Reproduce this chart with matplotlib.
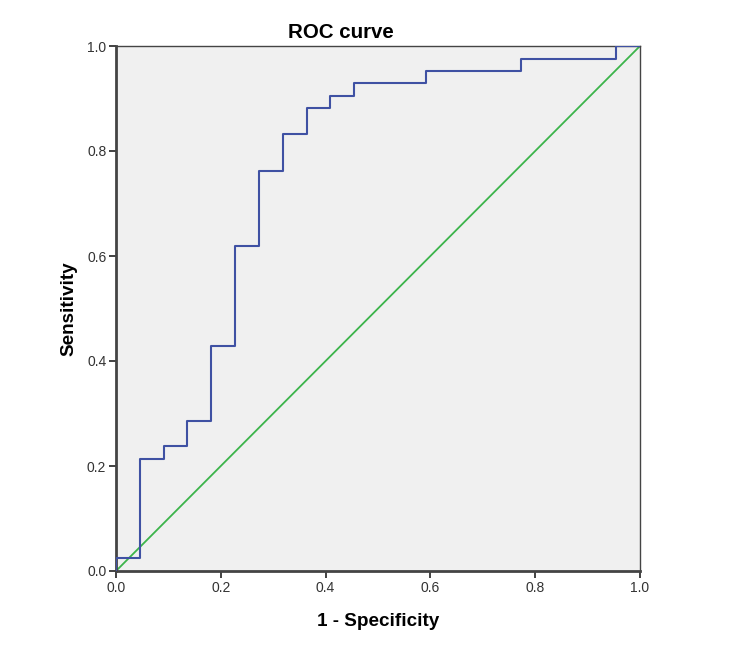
import matplotlib
matplotlib.use("Agg")
import matplotlib.pyplot as plt

plt.rcParams['font.family'] = ['Liberation Sans', 'DejaVu Sans']

# ROC step points (1 - specificity, sensitivity)
fpr = [0.0, 0.0, 0.045, 0.045, 0.091, 0.091, 0.136, 0.136, 0.182, 0.182,
       0.227, 0.227, 0.273, 0.273, 0.318, 0.318, 0.364, 0.364, 0.409, 0.409,
       0.455, 0.455, 0.591, 0.591, 0.773, 0.773, 0.955, 0.955, 1.0]
tpr = [0.0, 0.024, 0.024, 0.214, 0.214, 0.238, 0.238, 0.286, 0.286, 0.429,
       0.429, 0.619, 0.619, 0.762, 0.762, 0.833, 0.833, 0.881, 0.881, 0.905,
       0.905, 0.929, 0.929, 0.952, 0.952, 0.976, 0.976, 1.0, 1.0]
ref_x = [0.0, 1.0]
ref_y = [0.0, 1.0]
ticks = [0.0, 0.2, 0.4, 0.6, 0.8, 1.0]
tick_labels = ["0.0", "0.2", "0.4", "0.6", "0.8", "1.0"]

fig = plt.figure(figsize=(7.44, 6.52), dpi=100)
ax = fig.add_axes([116 / 744, 1 - 571 / 652, 524 / 744, 525 / 652])
ax.set_facecolor("#f0f0f0")

ax.plot(ref_x, ref_y, color="#3cb44b", lw=1.3, zorder=2)
ax.plot(fpr, tpr, color="#3f51a3", lw=1.5, zorder=3)

ax.set_xlim(0, 1)
ax.set_ylim(0, 1)
ax.set_xticks(ticks)
ax.set_xticklabels(tick_labels)
ax.set_yticks(ticks)
ax.set_yticklabels(tick_labels)
ax.tick_params(direction="out", length=5, width=1.3, color="#333333",
               labelsize=10, labelcolor="#333333", pad=2)

for side in ["left", "bottom"]:
    ax.spines[side].set_linewidth(2)
    ax.spines[side].set_color("#444444")
for side in ["top", "right"]:
    ax.spines[side].set_linewidth(1)
    ax.spines[side].set_color("#444444")

ax.set_title("ROC curve", fontsize=14.8, fontweight="bold", pad=6, x=0.43)
ax.set_xlabel("1 - Specificity", fontsize=13.6, fontweight="bold", labelpad=13)
ax.set_ylabel("Sensitivity", fontsize=13.6, fontweight="bold", labelpad=7)

fig.savefig("out.png", dpi=100)
